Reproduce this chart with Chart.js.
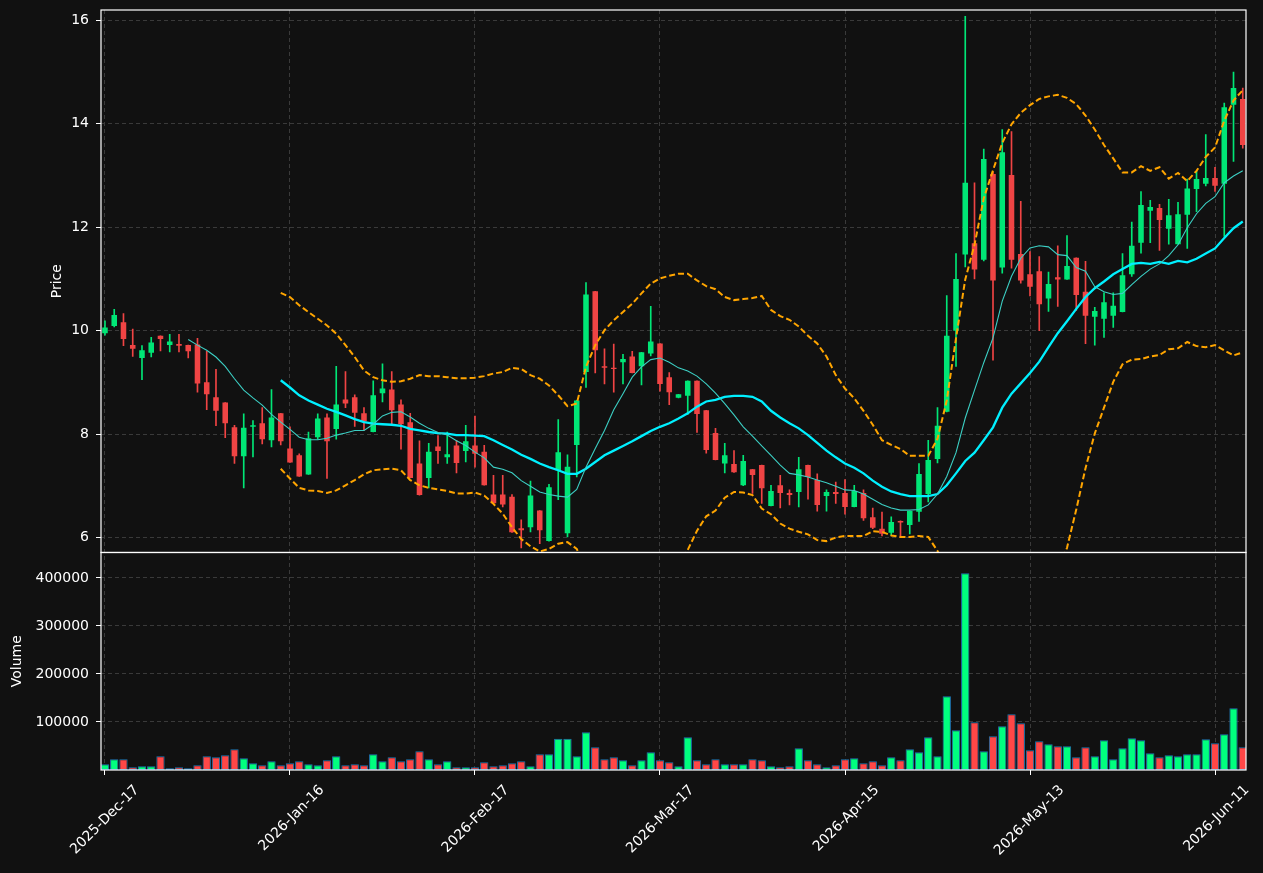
<!DOCTYPE html>
<html lang="en">
<head>
  <meta charset="UTF-8">
  <title>Price and Volume</title>
  <script src="https://cdn.jsdelivr.net/npm/chart.js"></script>
  <style>
    html, body { margin: 0; padding: 0; background: #111111; }
    #chart { display: block; }
  </style>
</head>
<body>
  <canvas id="chart" width="1263" height="873"></canvas>

  <script>
    // Trading days (categories)
    const dates = [
      '2025-Dec-17','2025-Dec-18','2025-Dec-19','2025-Dec-22','2025-Dec-23','2025-Dec-24','2025-Dec-26','2025-Dec-29','2025-Dec-30','2025-Dec-31',
      '2026-Jan-02','2026-Jan-05','2026-Jan-06','2026-Jan-07','2026-Jan-08','2026-Jan-09','2026-Jan-12','2026-Jan-13','2026-Jan-14','2026-Jan-15',
      '2026-Jan-16','2026-Jan-20','2026-Jan-21','2026-Jan-22','2026-Jan-23','2026-Jan-26','2026-Jan-27','2026-Jan-28','2026-Jan-29','2026-Jan-30',
      '2026-Feb-02','2026-Feb-03','2026-Feb-04','2026-Feb-05','2026-Feb-06','2026-Feb-09','2026-Feb-10','2026-Feb-11','2026-Feb-12','2026-Feb-13',
      '2026-Feb-17','2026-Feb-18','2026-Feb-19','2026-Feb-20','2026-Feb-23','2026-Feb-24','2026-Feb-25','2026-Feb-26','2026-Feb-27','2026-Mar-02',
      '2026-Mar-03','2026-Mar-04','2026-Mar-05','2026-Mar-06','2026-Mar-09','2026-Mar-10','2026-Mar-11','2026-Mar-12','2026-Mar-13','2026-Mar-16',
      '2026-Mar-17','2026-Mar-18','2026-Mar-19','2026-Mar-20','2026-Mar-23','2026-Mar-24','2026-Mar-25','2026-Mar-26','2026-Mar-27','2026-Mar-30',
      '2026-Mar-31','2026-Apr-01','2026-Apr-02','2026-Apr-06','2026-Apr-07','2026-Apr-08','2026-Apr-09','2026-Apr-10','2026-Apr-13','2026-Apr-14',
      '2026-Apr-15','2026-Apr-16','2026-Apr-17','2026-Apr-20','2026-Apr-21','2026-Apr-22','2026-Apr-23','2026-Apr-24','2026-Apr-27','2026-Apr-28',
      '2026-Apr-29','2026-Apr-30','2026-May-01','2026-May-04','2026-May-05','2026-May-06','2026-May-07','2026-May-08','2026-May-11','2026-May-12',
      '2026-May-13','2026-May-14','2026-May-15','2026-May-18','2026-May-19','2026-May-20','2026-May-21','2026-May-22','2026-May-26','2026-May-27',
      '2026-May-28','2026-May-29','2026-Jun-01','2026-Jun-02','2026-Jun-03','2026-Jun-04','2026-Jun-05','2026-Jun-08','2026-Jun-09','2026-Jun-10',
      '2026-Jun-11','2026-Jun-12','2026-Jun-15','2026-Jun-16'
    ];

    const opens = [
      9.95,10.09,10.16,9.72,9.47,9.57,9.90,9.72,9.74,9.72,
      9.73,9.00,8.71,8.61,8.13,7.57,8.14,8.21,7.88,8.40,
      7.72,7.59,7.22,7.94,8.32,8.10,8.67,8.71,8.40,8.04,
      8.79,8.86,8.57,8.23,7.43,7.15,7.76,7.55,7.78,7.67,
      7.78,7.66,6.83,6.83,6.79,6.18,6.20,6.52,5.93,7.30,
      6.08,7.79,9.20,10.76,9.31,9.28,9.39,9.50,9.31,9.56,
      9.75,9.10,8.70,8.74,9.03,8.46,8.02,7.43,7.42,7.01,
      7.32,7.40,6.61,7.01,6.86,6.88,7.40,7.11,6.80,6.88,
      6.86,6.59,6.86,6.39,6.17,6.09,6.32,6.24,6.50,6.84,
      7.52,8.43,10.00,11.47,11.69,11.37,13.03,11.22,13.01,11.48,
      11.09,11.15,10.62,11.03,10.99,11.41,10.75,10.27,10.23,10.29,
      10.36,11.09,11.70,12.32,12.37,11.97,11.67,12.24,12.74,12.84,
      12.95,12.84,14.37,14.48
    ];
    const highs = [
      10.19,10.41,10.33,10.03,9.71,9.87,9.90,9.93,9.93,9.72,
      9.85,9.60,9.25,8.61,8.17,8.39,8.26,8.51,8.86,8.40,
      8.14,7.62,8.04,8.39,8.39,9.31,9.21,8.76,8.51,9.03,
      9.36,9.21,8.66,8.40,7.87,7.82,7.97,8.04,7.88,8.17,
      8.35,7.78,7.20,7.20,6.83,6.34,7.09,6.52,7.03,8.28,
      7.60,8.65,10.93,10.76,9.65,9.74,9.54,9.60,9.58,10.47,
      9.75,9.19,8.77,9.03,9.03,8.46,8.11,7.82,7.68,7.59,
      7.32,7.40,7.01,7.20,6.92,7.55,7.40,7.23,6.92,7.07,
      7.12,7.01,6.92,6.57,6.49,6.40,6.32,6.51,7.43,7.88,
      8.51,10.68,11.49,16.08,12.86,13.51,13.07,13.89,13.85,12.50,
      11.53,11.43,11.13,11.64,11.84,11.41,11.34,10.45,10.73,10.73,
      11.49,12.10,12.69,12.52,12.44,12.54,12.48,12.93,13.08,13.79,
      13.16,14.40,15.00,14.69
    ];
    const lows = [
      9.91,10.07,9.71,9.50,9.05,9.49,9.61,9.59,9.59,9.47,
      8.81,8.47,8.16,7.93,7.43,6.96,7.56,7.81,7.75,7.79,
      7.45,7.18,7.22,7.90,7.14,7.90,8.51,8.15,8.07,8.04,
      8.62,8.20,7.71,7.15,6.82,6.96,7.43,7.43,7.25,7.46,
      7.36,7.01,6.65,6.59,6.10,5.80,6.11,5.88,5.93,6.73,
      6.01,7.17,8.90,9.18,8.97,8.81,8.97,9.18,8.95,9.51,
      8.83,8.57,8.70,8.38,8.03,7.63,7.50,7.25,7.26,7.00,
      6.85,6.66,6.61,6.57,6.63,6.59,6.74,6.51,6.51,6.66,
      6.45,6.59,6.33,6.17,6.03,6.04,6.00,6.07,6.31,6.69,
      7.44,8.43,9.31,11.23,11.00,11.35,9.43,11.11,11.21,10.92,
      10.67,10.00,10.37,10.47,10.99,10.39,9.75,9.72,9.87,10.06,
      10.36,11.05,11.50,11.70,11.55,11.67,11.67,11.59,12.30,12.80,
      12.69,11.82,13.27,13.53
    ];
    const closes = [
      10.06,10.30,9.84,9.65,9.62,9.77,9.84,9.79,9.71,9.60,
      8.98,8.77,8.45,8.21,7.57,8.12,8.17,7.90,8.32,7.86,
      7.45,7.18,7.92,8.30,7.86,8.57,8.59,8.41,8.25,8.75,
      8.88,8.46,8.19,7.15,6.82,7.66,7.67,7.61,7.44,7.86,
      7.62,7.01,6.66,6.64,6.10,6.14,6.81,6.14,6.97,7.65,
      7.37,8.65,10.70,9.62,9.28,9.26,9.45,9.18,9.58,9.79,
      8.97,8.81,8.77,9.03,8.39,7.69,7.50,7.59,7.26,7.48,
      7.21,6.95,6.90,6.86,6.82,7.32,7.17,6.63,6.88,6.84,
      6.59,6.90,6.37,6.19,6.07,6.30,6.29,6.51,7.23,7.50,
      8.16,9.90,11.00,12.86,11.18,13.32,10.97,13.45,11.37,10.97,
      10.85,10.51,10.90,10.99,11.25,10.69,10.29,10.38,10.55,10.48,
      11.07,11.64,12.43,12.39,12.14,12.23,12.25,12.75,12.93,12.95,
      12.80,14.32,14.69,13.59
    ];
    const volumes = [
      11800,22200,22200,5500,7600,7600,28500,3500,5500,3500,
      9700,28500,26400,30500,43000,24300,13900,9700,18000,9700,
      13900,18000,11800,9700,20100,28500,9700,11800,9700,32600,
      18000,26400,18000,22200,38900,22200,11800,18000,5500,5500,
      5500,16000,7600,9700,13900,18000,7600,32600,32600,65200,
      65200,28500,78400,47200,22200,26400,20100,9700,20100,36800,
      20100,16000,7600,68000,20100,11800,22200,11800,11800,11800,
      22200,20100,7600,5500,7600,45100,20100,11800,5500,9700,
      22200,24300,13900,18000,9700,26400,20100,43000,36800,68000,
      28500,153400,82600,409500,99200,38900,70100,90900,115900,97200,
      40900,59700,53400,49300,49300,26400,47200,28500,61800,22200,
      45100,65900,61800,34700,26400,30500,28500,32600,32600,63800,
      55500,74300,128400,47200
    ];

    // Moving average (10) starts at candle 9, MA20 and bands at candle 19
    const ma10Start = 9;
    const ma10 = [
      9.83,9.72,9.62,9.49,9.31,9.07,8.85,8.70,8.56,8.38,
      8.23,8.09,7.94,7.89,7.89,7.92,7.98,8.02,8.07,8.07,
      8.19,8.35,8.42,8.43,8.33,8.21,8.11,8.03,7.98,7.87,
      7.78,7.65,7.54,7.36,7.32,7.25,7.10,6.99,6.88,6.83,
      6.80,6.78,6.93,7.36,7.72,8.07,8.47,8.78,9.10,9.30,
      9.44,9.47,9.39,9.28,9.22,9.12,8.97,8.79,8.59,8.37,
      8.14,7.96,7.77,7.59,7.40,7.24,7.21,7.17,7.11,7.06,
      6.99,6.92,6.91,6.84,6.74,6.64,6.57,6.53,6.53,6.54,
      6.63,6.84,7.18,7.64,8.31,8.85,9.38,9.86,10.57,11.05,
      11.40,11.60,11.64,11.62,11.47,11.45,11.22,11.15,10.85,10.75,
      10.70,10.72,10.89,11.05,11.19,11.29,11.45,11.66,11.99,12.26,
      12.46,12.59,12.86,12.99,13.09
    ];
    const ma20Start = 19;
    const ma20 = [
      9.04,8.90,8.75,8.65,8.57,8.49,8.43,8.36,8.29,8.23,
      8.20,8.19,8.18,8.16,8.10,8.07,8.04,8.02,8.01,7.98,
      7.98,7.97,7.96,7.88,7.79,7.70,7.60,7.52,7.43,7.36,
      7.30,7.23,7.23,7.33,7.46,7.59,7.68,7.77,7.86,7.96,
      8.06,8.14,8.21,8.30,8.40,8.53,8.63,8.66,8.72,8.74,
      8.74,8.72,8.63,8.45,8.32,8.21,8.11,7.98,7.83,7.68,
      7.55,7.43,7.35,7.24,7.10,6.98,6.89,6.84,6.80,6.80,
      6.80,6.84,7.01,7.24,7.48,7.64,7.88,8.13,8.51,8.78,
      8.98,9.18,9.40,9.68,9.95,10.18,10.42,10.65,10.82,10.95,
      11.09,11.19,11.29,11.31,11.29,11.33,11.29,11.35,11.32,11.39,
      11.49,11.59,11.79,11.98,12.11
    ];
    const bbUpper = [
      10.73,10.65,10.49,10.36,10.23,10.10,9.94,9.72,9.49,9.23,
      9.10,9.04,9.01,9.02,9.07,9.14,9.12,9.12,9.10,9.08,
      9.08,9.09,9.12,9.17,9.20,9.28,9.26,9.14,9.07,8.94,
      8.75,8.54,8.59,9.30,9.72,10.01,10.20,10.36,10.52,10.72,
      10.91,11.01,11.06,11.10,11.10,10.97,10.86,10.80,10.65,10.59,
      10.61,10.63,10.67,10.40,10.28,10.21,10.08,9.90,9.75,9.50,
      9.14,8.88,8.69,8.45,8.18,7.88,7.79,7.71,7.58,7.58,
      7.58,7.91,8.65,9.85,10.99,11.66,12.56,13.10,13.63,13.99,
      14.21,14.36,14.48,14.53,14.56,14.50,14.38,14.16,13.89,13.59,
      13.33,13.06,13.06,13.18,13.09,13.16,12.94,13.05,12.89,13.09,
      13.36,13.54,14.06,14.45,14.65
    ];
    const bbLower = [
      7.33,7.14,6.96,6.91,6.90,6.86,6.91,7.01,7.11,7.22,
      7.30,7.32,7.33,7.30,7.11,7.01,6.96,6.93,6.90,6.85,
      6.85,6.87,6.81,6.65,6.46,6.20,5.97,5.83,5.73,5.78,
      5.88,5.91,5.78,5.36,5.20,5.17,5.16,5.18,5.20,5.20,
      5.21,5.27,5.37,5.48,5.76,6.13,6.41,6.52,6.77,6.88,
      6.87,6.82,6.56,6.45,6.27,6.17,6.11,6.06,5.95,5.93,
      6.00,6.03,6.03,6.03,6.12,6.11,6.04,6.01,6.01,6.03,
      6.01,5.74,5.37,4.63,3.97,3.62,3.20,3.16,3.39,3.57,
      3.75,4.00,4.32,4.83,5.34,5.80,6.54,7.34,8.01,8.51,
      9.01,9.35,9.44,9.45,9.50,9.53,9.64,9.66,9.78,9.70,
      9.68,9.72,9.62,9.52,9.58
    ];

    // Axis ticks
    const priceTicks = [6, 8, 10, 12, 14, 16];
    const volumeTicks = [100000, 200000, 300000, 400000];
    const dateTickIdx = [0, 20, 40, 60, 80, 100, 120];

    const upColor = '#00e676';
    const downColor = '#f04444';
    const volUpColor = '#00ff7f';
    const volDownColor = '#ff4747';
    const gridColor = '#3a3a3a';
    const textColor = '#ffffff';
    const fontFamily = 'DejaVu Sans';

    Chart.defaults.font.family = fontFamily;

    function isUp(i) {
      return closes[i] >= opens[i];
    }

    function series(values, start) {
      return values.map((v, k) => ({ x: k + start, y: v }));
    }

    const candleColors = dates.map((d, i) => isUp(i) ? upColor : downColor);
    const volumeColors = dates.map((d, i) => isUp(i) ? volUpColor : volDownColor);

    // clip each dataset to its own panel
    const panelClip = {
      id: 'panelClip',
      beforeDatasetDraw(chart, args) {
        const ys = chart.scales[args.meta.yAxisID];
        const a = chart.chartArea;
        chart.ctx.save();
        chart.ctx.beginPath();
        chart.ctx.rect(a.left, ys.top, a.right - a.left, ys.bottom - ys.top);
        chart.ctx.clip();
      },
      afterDatasetDraw(chart) {
        chart.ctx.restore();
      }
    };

    // background + white frames around both panels
    const panelFrames = {
      id: 'panelFrames',
      beforeDraw(chart) {
        const ctx = chart.ctx;
        ctx.save();
        ctx.fillStyle = '#111111';
        ctx.fillRect(0, 0, chart.width, chart.height);
        ctx.restore();
      },
      afterDraw(chart) {
        const ctx = chart.ctx;
        const a = chart.chartArea;
        ctx.save();
        ctx.strokeStyle = '#ffffff';
        ctx.lineWidth = 1.2;
        ['y', 'yv'].forEach(id => {
          const s = chart.scales[id];
          ctx.strokeRect(a.left, s.top, a.right - a.left, s.bottom - s.top);
        });
        ctx.restore();
      }
    };

    const tickFont = { family: fontFamily, size: 14 };

    // fixed panel geometry (no label overflow padding)
    function fitY(s) {
      s.width = 101;
      s.paddingTop = 0;
      s.paddingBottom = 0;
    }

    const config = {
      type: 'bar',
      data: {
        datasets: [
          {
            type: 'line', label: 'Upper band', yAxisID: 'y', order: 0,
            data: series(bbUpper, ma20Start),
            borderColor: '#ffa500', borderWidth: 2, borderDash: [6, 3],
            pointRadius: 0, fill: false
          },
          {
            type: 'line', label: 'Lower band', yAxisID: 'y', order: 0,
            data: series(bbLower, ma20Start),
            borderColor: '#ffa500', borderWidth: 2, borderDash: [6, 3],
            pointRadius: 0, fill: false
          },
          {
            type: 'line', label: 'MA10', yAxisID: 'y', order: 0,
            data: series(ma10, ma10Start),
            borderColor: '#3ccfc4', borderWidth: 1.1,
            pointRadius: 0, fill: false
          },
          {
            type: 'line', label: 'MA20', yAxisID: 'y', order: 0,
            data: series(ma20, ma20Start),
            borderColor: '#00f0ff', borderWidth: 2.3,
            pointRadius: 0, fill: false
          },
          {
            label: 'Body', yAxisID: 'y', order: 1, grouped: false,
            data: dates.map((d, i) => ({ x: i, y: [opens[i], closes[i]] })),
            backgroundColor: candleColors,
            categoryPercentage: 1, barPercentage: 0.6
          },
          {
            label: 'Wick', yAxisID: 'y', order: 2, grouped: false,
            data: dates.map((d, i) => ({ x: i, y: [lows[i], highs[i]] })),
            backgroundColor: candleColors,
            barThickness: 1
          },
          {
            label: 'Volume', yAxisID: 'yv', order: 3, grouped: false,
            data: dates.map((d, i) => ({ x: i, y: volumes[i] })),
            backgroundColor: volumeColors,
            borderColor: '#1f77b4', borderWidth: 1, borderSkipped: false,
            categoryPercentage: 1, barPercentage: 0.9
          }
        ]
      },
      options: {
        responsive: false,
        maintainAspectRatio: false,
        devicePixelRatio: 1,
        animation: false,
        layout: { padding: { top: 10, right: 17, left: 0, bottom: 0 } },
        plugins: {
          legend: { display: false },
          tooltip: { enabled: false }
        },
        scales: {
          x: {
            type: 'linear',
            min: -0.43,
            max: 123.35,
            offset: false,
            grid: { color: gridColor, offset: false, drawTicks: true, tickLength: 5, tickColor: textColor, tickWidth: 1 },
            border: { display: false, dash: [4, 3] },
            afterBuildTicks: s => { s.ticks = dateTickIdx.map(v => ({ value: v })); },
            afterFit: s => { s.height = 103; s.paddingLeft = 0; s.paddingRight = 0; },
            ticks: {
              color: textColor, font: tickFont,
              minRotation: 45, maxRotation: 45, autoSkip: false,
              labelOffset: 32, padding: 7,
              callback: v => dates[v]
            }
          },
          yv: {
            type: 'linear',
            position: 'left',
            stack: 'panels',
            stackWeight: 1,
            min: 0,
            max: 453000,
            grid: { color: gridColor, tickLength: 5, tickColor: textColor, tickWidth: 1 },
            border: { display: false, dash: [4, 3] },
            afterBuildTicks: s => { s.ticks = volumeTicks.map(v => ({ value: v })); },
            afterFit: fitY,
            ticks: { color: textColor, font: tickFont, padding: 7, callback: v => String(v) },
            title: { display: true, text: 'Volume', color: textColor, font: tickFont, padding: { top: 9, bottom: 0 } }
          },
          y: {
            type: 'linear',
            position: 'left',
            stack: 'panels',
            stackWeight: 2.494,
            min: 5.71,
            max: 16.2,
            grid: { color: gridColor, tickLength: 5, tickColor: textColor, tickWidth: 1 },
            border: { display: false, dash: [4, 3] },
            afterBuildTicks: s => { s.ticks = priceTicks.map(v => ({ value: v })); },
            afterFit: fitY,
            ticks: { color: textColor, font: tickFont, padding: 7, callback: v => String(v) },
            title: { display: true, text: 'Price', color: textColor, font: tickFont, padding: { top: 49, bottom: 0 } }
          }
        }
      },
      plugins: [panelClip, panelFrames]
    };

    new Chart(document.getElementById('chart').getContext('2d'), config);
  </script>
</body>
</html>
